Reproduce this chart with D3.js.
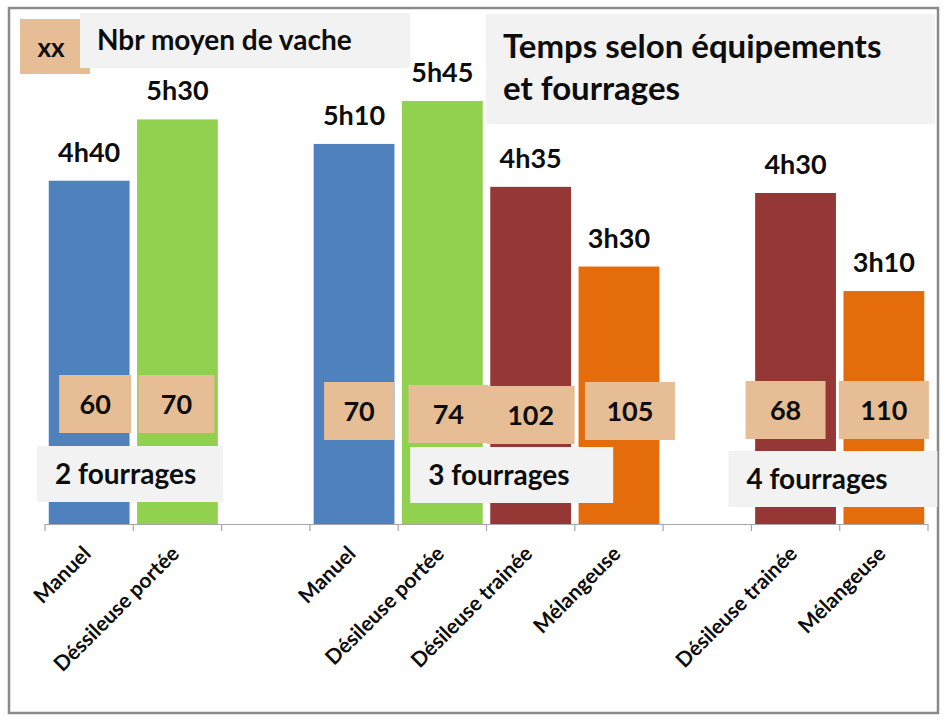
<!DOCTYPE html>
<html><head><meta charset="utf-8">
<script src="https://cdn.jsdelivr.net/npm/d3@7"></script>
<style>body{margin:0;background:#fff}svg{display:block}text{font-family:Lato,"Open Sans",sans-serif;font-weight:bold;fill:#0d0d0d}</style>
</head><body>
<script>
// ---- data ----
const categories = ["Manuel","Déssileuse portée","","Manuel","Désileuse portée","Désileuse trainée","Mélangeuse","","Désileuse trainée","Mélangeuse"];
const minutes = [280, 330, null, 310, 345, 275, 210, null, 270, 190]; // 4h40, 5h30, 5h10, 5h45, 4h35, 3h30, 4h30, 3h10
const cowCounts = [60, 70, null, 70, 74, 102, 105, null, 68, 110];
const groupLabels = ["2 fourrages", "3 fourrages", "4 fourrages"];
const title = ["Temps selon équipements", "et fourrages"];
const legendKey = "xx";
const legendText = "Nbr moyen de vache";

// ---- layout / style ----
const W = 951, H = 723;
const colorOf = name => name === "Manuel" ? "#4F81BD" : /portée/.test(name) ? "#92D050" : /trainée/.test(name) ? "#953735" : "#E46C0A";
const tan = "#E6BD94", grey = "#F2F2F2";
const countBox = [[6,-6,72],[-1,-6,76],null,[5,1,70],[6,4,80],[0,5,88],[11,1,90],null,[-10,0,80],[0,0,90]]; // dx, dy, width
const groupBoxes = [{tick:0, dx:-8, w:186, top:446}, {tick:4, dx:12, w:203, top:447}, {tick:8, dx:-23, w:209, top:451}];

const svg = d3.select("body").append("svg").attr("width", W).attr("height", H);

const ids = categories.map((c,i)=>i);
const x = d3.scaleBand().domain(ids).range([45, 928]).paddingInner(0.085).paddingOuter(0.0425);
const step = x.step();
const tickX = i => x(i) - step * 0.085 / 2;
const y = d3.scaleLinear().domain([0, 360]).range([524, 524 - 360 * 1.226]);
const fmt = m => Math.floor(m / 60) + "h" + String(m % 60).padStart(2, "0");

// frame
svg.append("rect").attr("x", 9).attr("y", 8).attr("width", 929).attr("height", 705)
  .attr("fill", "#fff").attr("stroke", "#8a8a8a").attr("stroke-width", 2.5);

// bars
const barData = ids.filter(i => minutes[i] != null);
svg.append("g").selectAll("rect").data(barData).join("rect")
  .attr("x", i => x(i)).attr("width", x.bandwidth())
  .attr("y", i => y(minutes[i])).attr("height", i => y(0) - y(minutes[i]))
  .attr("fill", i => colorOf(categories[i]));

// value labels
svg.append("g").selectAll("text").data(barData).join("text")
  .attr("x", i => x(i) + x.bandwidth() / 2).attr("y", i => y(minutes[i]) - 19)
  .attr("text-anchor", "middle").attr("font-size", 27)
  .text(i => fmt(minutes[i]));

// axis
const axisG = svg.append("g");
axisG.append("line").attr("x1", 45).attr("x2", 928).attr("y1", 524.5).attr("y2", 524.5)
  .attr("stroke", "#a6a6a6").attr("stroke-width", 1.2);
axisG.selectAll("line.tick").data(d3.range(categories.length + 1)).join("line").attr("class", "tick")
  .attr("x1", i => i < categories.length ? tickX(i) : tickX(i - 1) + step)
  .attr("x2", i => i < categories.length ? tickX(i) : tickX(i - 1) + step)
  .attr("y1", 524).attr("y2", 531).attr("stroke", "#a6a6a6").attr("stroke-width", 1.2);
axisG.selectAll("text").data(ids.filter(i => categories[i])).join("text")
  .attr("transform", i => `translate(${x(i) + x.bandwidth() / 2 + 3},555) rotate(-45)`)
  .attr("text-anchor", "end").attr("font-size", 21)
  .text(i => categories[i]);

// group labels
groupBoxes.forEach((g, k) => {
  const left = tickX(g.tick) + g.dx;
  svg.append("rect").attr("x", left).attr("y", g.top).attr("width", g.w).attr("height", 56).attr("fill", grey);
  svg.append("text").attr("x", left + 18).attr("y", g.top + 38).attr("font-size", 28).text(groupLabels[k]);
});

// count boxes
const countData = ids.filter(i => cowCounts[i] != null);
const cg = svg.append("g");
countData.forEach(i => {
  const [dx, dy, w] = countBox[i];
  const cx = x(i) + x.bandwidth() / 2 + dx, cy = 410 + dy;
  cg.append("rect").attr("x", cx - w / 2).attr("y", cy - 29).attr("width", w).attr("height", 58).attr("fill", tan);
  cg.append("text").attr("x", cx).attr("y", cy + 10).attr("text-anchor", "middle").attr("font-size", 27).text(cowCounts[i]);
});

// legend
svg.append("rect").attr("x", 20).attr("y", 19).attr("width", 70).attr("height", 55).attr("fill", tan);
svg.append("rect").attr("x", 80).attr("y", 13).attr("width", 330).attr("height", 55).attr("fill", grey);
svg.append("text").attr("x", 51).attr("y", 57).attr("text-anchor", "middle").attr("font-size", 26).text(legendKey);
svg.append("text").attr("x", 97).attr("y", 50).attr("font-size", 28).text(legendText);

// title
svg.append("rect").attr("x", 486).attr("y", 14).attr("width", 449).attr("height", 110).attr("fill", grey);
svg.append("text").attr("x", 503).attr("y", 58).attr("font-size", 33)
  .selectAll("tspan").data(title).join("tspan").attr("x", 503).attr("dy", (d, i) => i ? 42 : 0).text(d => d);
</script>
</body></html>
